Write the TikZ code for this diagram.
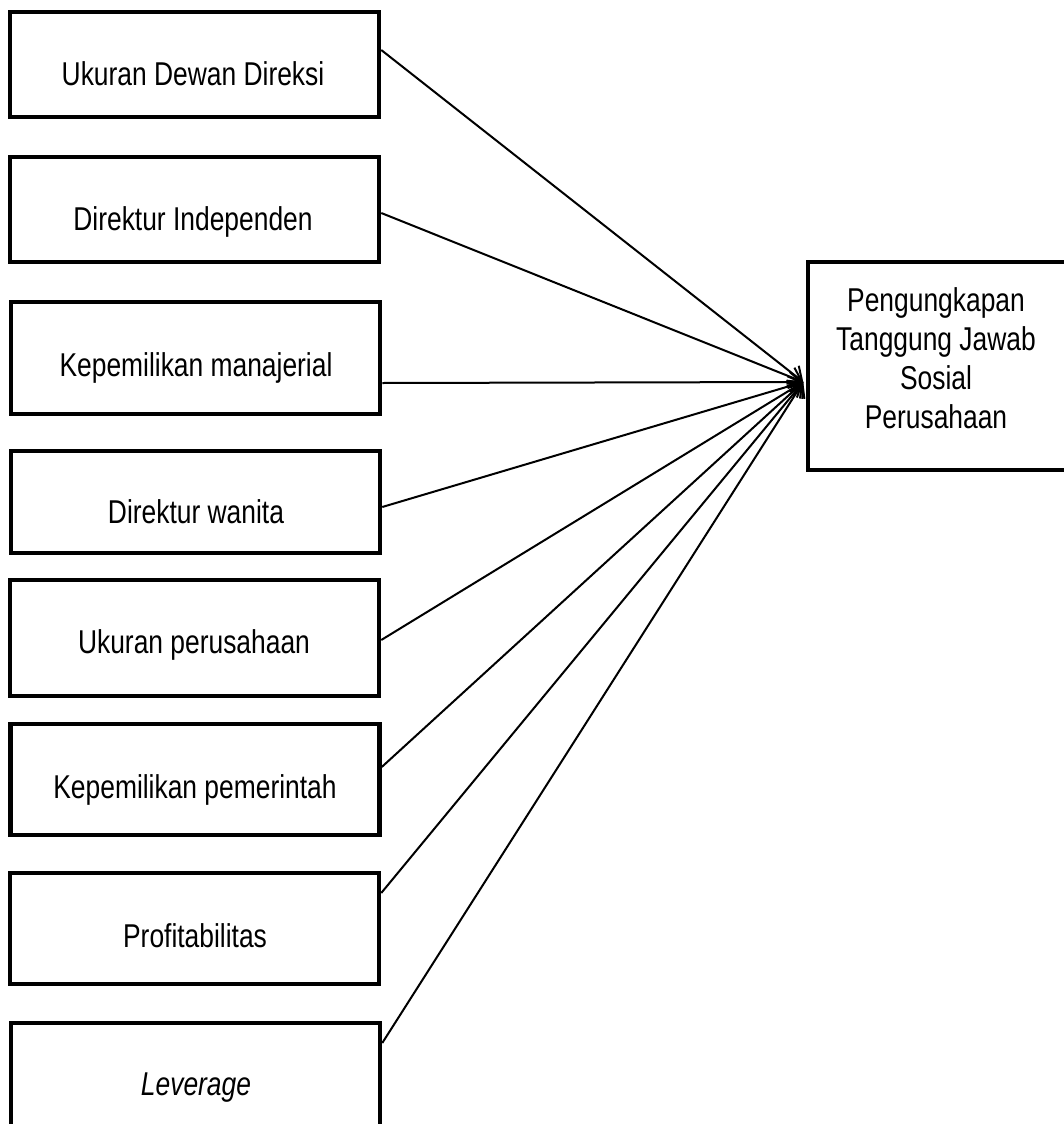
\documentclass[tikz,border=0pt]{standalone}
\usepackage{fontspec}
\setmainfont{Liberation Sans}[FakeStretch=0.8]
\usetikzlibrary{arrows.meta}
\begin{document}
\begin{tikzpicture}[x=1pt,y=-1pt,
  varbox/.style={draw, line width=4.5pt, minimum width=369pt, inner sep=0pt},
  lbl/.style={font=\fontsize{33}{39}\selectfont, align=center, anchor=base, inner sep=0pt},
  conn/.style={line width=2pt, -{Straight Barb[length=12pt,width=20pt,line width=2pt]}}]
\useasboundingbox (0,0) rectangle (1064,1124);
% left boxes: centre y and height
\node[varbox, minimum height=105pt] (b1) at (194.5,64.5) {};
\node[varbox, minimum height=105pt] (b2) at (194.5,209.5) {};
\node[varbox, minimum height=112pt] (b3) at (195.5,358) {};
\node[varbox, minimum height=102pt] (b4) at (195.5,502) {};
\node[varbox, minimum height=116pt] (b5) at (194.5,638) {};
\node[varbox, minimum height=111pt] (b6) at (195,779.5) {};
\node[varbox, minimum height=111pt] (b7) at (194.5,928.5) {};
\node[varbox, minimum height=116pt] (b8) at (195.5,1081) {};
% labels
\node[lbl] (t1) at (193,85.7) {Ukuran Dewan Direksi};
\node[lbl] (t2) at (193,230) {Direktur Independen};
\node[lbl] (t3) at (196,376.7) {Kepemilikan manajerial};
\node[lbl] (t4) at (196,523) {Direktur wanita};
\node[lbl] (t5) at (194,653) {Ukuran perusahaan};
\node[lbl] (t6) at (195,798) {Kepemilikan pemerintah};
\node[lbl] (t7) at (195,947) {Profitabilitas};
\node[lbl] (t8) at (196,1095) {\itshape Leverage};
% right box
\node[varbox, minimum width=258pt, minimum height=208pt] (y) at (937,366) {};
\node[lbl] (ty) at (936,428) {Pengungkapan\\Tanggung Jawab\\Sosial\\Perusahaan};
% target point
\coordinate (tip) at ([yshift=-16pt,xshift=-2.5pt]y.west);
\draw[conn] ([yshift=14.5pt]b1.east) -- (tip);
\draw[conn] ([yshift=-3.5pt]b2.east) -- (tip);
\draw[conn] ([yshift=-25pt]b3.east) -- (tip);
\draw[conn] ([yshift=-5pt]b4.east) -- (tip);
\draw[conn] ([yshift=-2pt]b5.east) -- (tip);
\draw[conn] ([yshift=12.5pt]b6.east) -- (tip);
\draw[conn] ([yshift=35.5pt]b7.east) -- (tip);
\draw[conn] ([yshift=38pt]b8.east) -- (tip);
\end{tikzpicture}
\end{document}
